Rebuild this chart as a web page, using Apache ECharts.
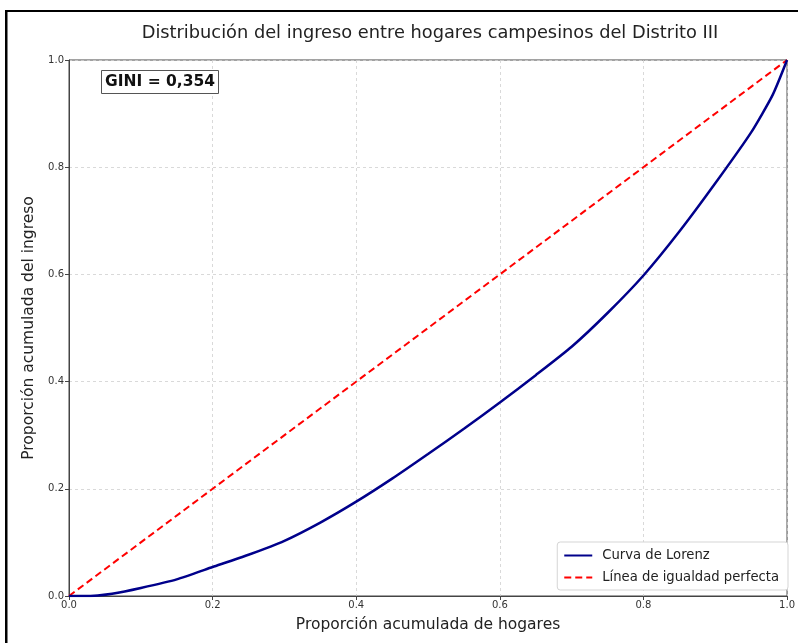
<!DOCTYPE html>
<html>
<head>
<meta charset="utf-8">
<script src="https://cdn.jsdelivr.net/npm/echarts@6/dist/echarts.min.js"></script>
<style>
html,body{margin:0;padding:0;background:#fff;}
#chart{width:798px;height:643px;}
</style>
</head>
<body>
<div id="chart"></div>
<script>
// Data
const lorenzX = [0, 0.02, 0.04, 0.06, 0.10, 0.15, 0.20, 0.25, 0.30, 0.35, 0.40, 0.45, 0.50, 0.55, 0.60, 0.65, 0.70, 0.75, 0.80, 0.85, 0.90, 0.95, 0.98, 1.00];
const lorenzY = [0, 0.000, 0.001, 0.004, 0.015, 0.031, 0.054, 0.077, 0.103, 0.137, 0.176, 0.219, 0.265, 0.312, 0.361, 0.412, 0.465, 0.528, 0.598, 0.680, 0.770, 0.865, 0.935, 1.000];
const equalityX = [0, 1];
const equalityY = [0, 1];
const giniText = 'GINI = 0,354';
const titleText = 'Distribución del ingreso entre hogares campesinos del Distrito III';
const seriesNames = ['Curva de Lorenz', 'Línea de igualdad perfecta'];

const font = 'DejaVu Sans';
const chart = echarts.init(document.getElementById('chart'));
const pairs = (xs, ys) => xs.map((x, i) => [x, ys[i]]);

chart.setOption({
  animation: false,
  backgroundColor: '#fff',
  title: [
    {
      text: titleText,
      left: 425, top: 19, textAlign: 'center',
      textStyle: { fontFamily: font, fontSize: 17.8, fontWeight: 'normal', color: '#222' }
    },
    {
      text: giniText,
      left: 101, top: 70,
      padding: [4, 4, 4, 4],
      borderWidth: 1, borderColor: '#555', backgroundColor: '#fff',
      textStyle: { fontFamily: font, fontSize: 15.5, fontWeight: 'bold', color: '#111' }
    }
  ],
  graphic: [
    { type: 'rect', shape: { x: 5, y: 10, width: 2.5, height: 640 }, style: { fill: '#000' }, silent: true },
    { type: 'rect', shape: { x: 5, y: 10, width: 800, height: 2 }, style: { fill: '#000' }, silent: true }
  ],
  grid: { left: 69, right: 8, top: 60, bottom: 47, show: true, borderColor: '#444', borderWidth: 1 },
  legend: {
    orient: 'vertical',
    right: 10, bottom: 53,
    itemWidth: 28, itemHeight: 14, itemGap: 9,
    padding: [7, 9, 6, 6],
    backgroundColor: '#fff',
    borderColor: '#d5d5d5', borderWidth: 1, borderRadius: 3,
    itemStyle: { opacity: 0 },
    textStyle: { fontFamily: font, fontSize: 13.2, color: '#222', padding: [0, 0, 0, 5] },
    data: seriesNames
  },
  xAxis: {
    type: 'value', min: 0, max: 1, interval: 0.2,
    name: 'Proporción acumulada de hogares',
    nameLocation: 'middle', nameGap: 21,
    nameTextStyle: { fontFamily: font, fontSize: 15.5, color: '#222' },
    axisLine: { show: true, onZero: false, lineStyle: { color: '#444', width: 1 } },
    axisTick: { show: true, length: 4, lineStyle: { color: '#444' } },
    axisLabel: { fontFamily: font, fontSize: 10, color: '#333', margin: 4, formatter: v => v.toFixed(1) },
    splitLine: { show: true, lineStyle: { color: '#d0d0d0', type: [3, 3], width: 0.8 } }
  },
  yAxis: {
    type: 'value', min: 0, max: 1, interval: 0.2,
    name: 'Proporción acumulada del ingreso',
    nameLocation: 'middle', nameGap: 31,
    nameTextStyle: { fontFamily: font, fontSize: 15.5, color: '#222' },
    axisLine: { show: true, onZero: false, lineStyle: { color: '#444', width: 1 } },
    axisTick: { show: true, length: 4, lineStyle: { color: '#444' } },
    axisLabel: { fontFamily: font, fontSize: 10, color: '#333', margin: 5, formatter: v => v.toFixed(1) },
    splitLine: { show: true, lineStyle: { color: '#d0d0d0', type: [3, 3], width: 0.8 } }
  },
  series: [
    {
      name: seriesNames[0], type: 'line',
      data: pairs(lorenzX, lorenzY),
      symbol: 'none', smooth: 0.2,
      lineStyle: { color: '#00008B', width: 2.5 },
      itemStyle: { color: '#00008B' },
      z: 3
    },
    {
      name: seriesNames[1], type: 'line',
      data: pairs(equalityX, equalityY),
      symbol: 'none',
      lineStyle: { color: '#FF0000', width: 2, type: [7, 4] },
      itemStyle: { color: '#FF0000' },
      z: 2
    }
  ]
});
</script>
</body>
</html>
